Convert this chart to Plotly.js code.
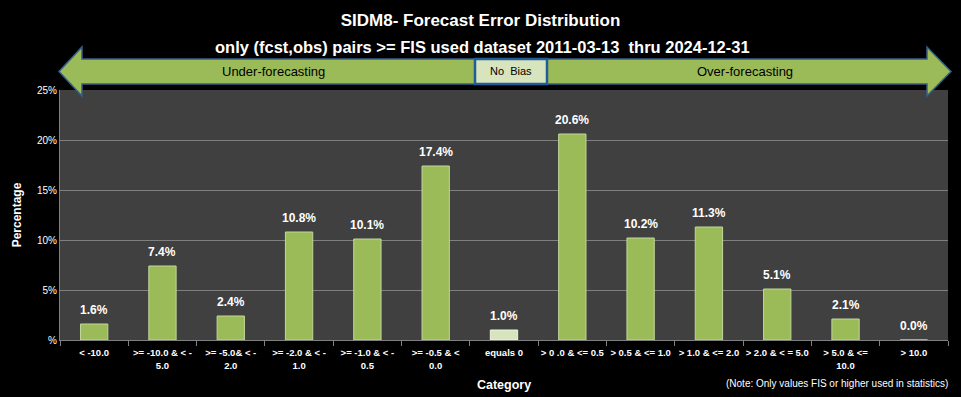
<!DOCTYPE html>
<html><head><meta charset="utf-8">
<script src="https://cdn.plot.ly/plotly-3.0.1.min.js"></script>
<style>html,body{margin:0;padding:0;background:#000;}#chart{width:961px;height:397px;}</style>
</head><body><div id="chart"></div>
<script>
const categories = ["< -10.0", ">= -10.0 & < -<br>5.0", ">= -5.0& < -<br>2.0", ">= -2.0 & < -<br>1.0", ">= -1.0 & < -<br>0.5", ">= -0.5 & <<br>0.0", "equals 0", "> 0 .0 & <= 0.5", "> 0.5 & <= 1.0", "> 1.0 & <= 2.0", "> 2.0 & < = 5.0", "> 5.0 & <=<br>10.0", "> 10.0"];
const percentages = [1.6, 7.4, 2.4, 10.8, 10.1, 17.4, 1.0, 20.6, 10.2, 11.3, 5.1, 2.1, 0.0];
const yTickVals = [0, 5, 10, 15, 20, 25];
const yTickText = ["%", "5%", "10%", "15%", "20%", "25%"];

const FONT = "Liberation Sans, Arial, sans-serif";
const W = 961, H = 397, ML = 60, MR = 13, MT = 90, MB = 57;
const PW = W - ML - MR, PH = H - MT - MB;
const px = x => (x - ML) / PW;
const py = y => (H - MB - y) / PH;

const barColors = categories.map((c, i) => i === 6 ? "#d7e4bd" : "#9bbb59");
const lineColors = categories.map((c, i) => i === 6 ? "#eef4e0" : "#c3d69b");

const arrowPts = [[59,71.5],[82,47],[82,59],[927,59],[927,47],[951,71.5],[927,96],[927,84],[82,84],[82,96]];
const arrowPath = "M " + arrowPts.map(p => px(p[0]).toFixed(5) + "," + py(p[1]).toFixed(5)).join(" L ") + " Z";

const annotations = categories.map((c, i) => ({
  x: c, y: percentages[i], xref: "x", yref: "y", text: "<b>" + percentages[i].toFixed(1) + "%</b>",
  showarrow: false, yanchor: "middle", yshift: 14, font: {family: FONT, size: 12, color: "#ffffff"}
}));
annotations.push(
  {xref: "paper", yref: "paper", x: px(482), y: py(47), text: "<b>only (fcst,obs) pairs >= FIS used dataset 2011-03-13  thru 2024-12-31</b>", showarrow: false, xanchor: "center", yanchor: "middle", font: {family: FONT, size: 16.5, color: "#ffffff"}},
  {xref: "paper", yref: "paper", x: px(273), y: py(72), text: "Under-forecasting", showarrow: false, xanchor: "center", yanchor: "middle", font: {family: FONT, size: 13, color: "#000000"}},
  {xref: "paper", yref: "paper", x: px(745), y: py(72), text: "Over-forecasting", showarrow: false, xanchor: "center", yanchor: "middle", font: {family: FONT, size: 13, color: "#000000"}},
  {xref: "paper", yref: "paper", x: px(511), y: py(71.5), text: "No  Bias", showarrow: false, xanchor: "center", yanchor: "middle", font: {family: FONT, size: 11, color: "#000000"}},
  {xref: "paper", yref: "paper", x: px(950), y: py(383), text: "(Note: Only values FIS or higher used in statistics)", showarrow: false, xanchor: "right", yanchor: "middle", font: {family: FONT, size: 10, color: "#ffffff"}}
);

const data = [{
  type: "bar", x: categories, y: percentages,
  marker: {color: barColors, line: {color: lineColors, width: 1}},
  hoverinfo: "x+y"
}];

const layout = {
  width: W, height: H,
  margin: {l: ML, r: MR, t: MT, b: MB, pad: 0},
  paper_bgcolor: "#000000", plot_bgcolor: "#404040",
  bargap: 0.6, showlegend: false,
  font: {family: FONT, color: "#ffffff"},
  title: {text: "<b>SIDM8- Forecast Error Distribution</b>", x: 0.5, xanchor: "center", y: 1 - 20 / H, yanchor: "middle", font: {family: FONT, size: 17, color: "#ffffff"}},
  xaxis: {
    type: "category", tickson: "boundaries", ticks: "outside", ticklen: 5, tickcolor: "#808080",
    showline: true, linecolor: "#808080", linewidth: 1, showgrid: false,
    tickfont: {family: FONT, size: 9.5, color: "#ffffff", weight: "bold"}, tickangle: 0, ticklabelstandoff: 4,
    title: {text: "<b>Category</b>", font: {family: FONT, size: 12.5, color: "#ffffff"}, standoff: 10}
  },
  yaxis: {
    range: [0, 25], tickvals: yTickVals, ticktext: yTickText, ticks: "",
    showline: true, linecolor: "#808080", linewidth: 1,
    showgrid: true, gridcolor: "#7f7f7f", gridwidth: 1, zeroline: false,
    tickfont: {family: FONT, size: 10, color: "#ffffff"},
    title: {text: "<b>Percentage</b>", font: {family: FONT, size: 12, color: "#ffffff"}, standoff: 12}
  },
  shapes: [
    {type: "path", xref: "paper", yref: "paper", path: arrowPath, fillcolor: "#9bbb59", line: {color: "#385d8a", width: 1.5}, layer: "above"},
    {type: "rect", xref: "paper", yref: "paper", x0: px(475), x1: px(547), y0: py(84), y1: py(59), fillcolor: "#d7e4bd", line: {color: "#1f5c99", width: 2.5}, layer: "above"}
  ],
  annotations: annotations
};

Plotly.newPlot("chart", data, layout, {displayModeBar: false, staticPlot: true});
</script></body></html>
